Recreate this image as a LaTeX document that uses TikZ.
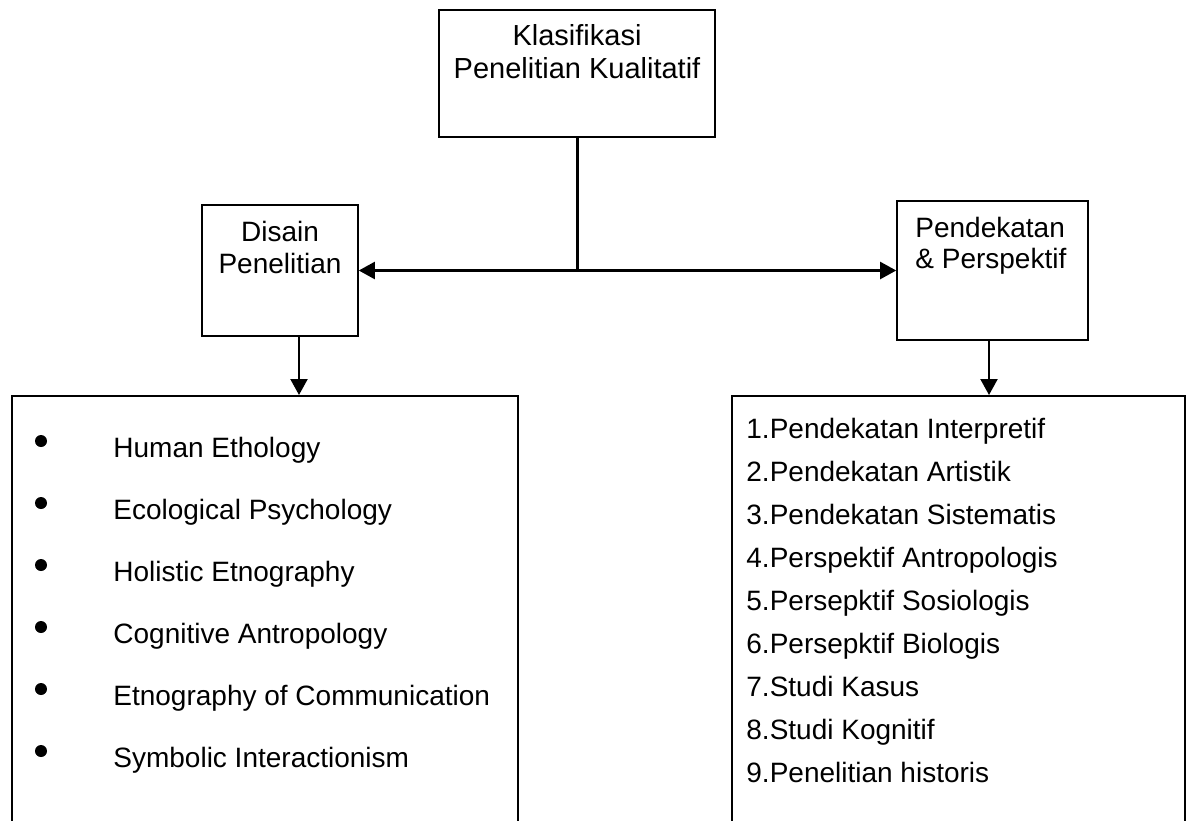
\documentclass[tikz,border=0pt]{standalone}
\usepackage{fontspec}
\setmainfont{Liberation Sans}
\usetikzlibrary{arrows.meta, positioning, calc}

\begin{document}
\begin{tikzpicture}[
    x=0.5pt, y=-0.5pt,
    every node/.style={font=\fontsize{14}{16}\selectfont, inner sep=0pt},
    bx/.style={draw, line width=0.8pt, fill=white},
    lbl/.style={align=center},
    item/.style={anchor=base west},
    dot/.style={circle, fill=black, minimum size=6pt, inner sep=0pt},
    ln/.style={line width=1.5pt},
    a/.style={-{Triangle[length=8pt, width=8.5pt]}, line width=1.1pt}
]
\path[use as bounding box, clip] (0,0) rectangle (1187,820);
\fill[white] (0,0) rectangle (1187,820);
% root
\node[bx, minimum width=138pt, minimum height=63.5pt] (root) at (577,73.5) {};
\node[lbl, font=\fontsize{14.5}{16.5}\selectfont] (rootT) at (577,52) {Klasifikasi\\Penelitian Kualitatif};
% second level
\node[bx, minimum width=78pt, minimum height=65.5pt] (dsn) at (280,270.5) {};
\node[lbl] (dsnT) at (280,247) {Disain\\Penelitian};
\node[bx, minimum width=95.5pt, minimum height=69.5pt] (pdk) at (992.5,270.5) {};
\node[lbl, align=left, anchor=west, font=\fontsize{14}{15.5}\selectfont] (pdkT) at (915,246) {Pendekatan\\\& Perspektif};
% connectors
\coordinate (jn) at (root.south |- dsn.east);
\draw[ln] (root.south) -- (jn);
\draw[a] (jn) -- (dsn.east);
\draw[a] (jn) -- (pdk.west);
% lists (cut off by the page)
\node[bx, anchor=north west, minimum width=253pt, minimum height=252.5pt] (lstD) at (11,395) {};
\node[bx, anchor=north west, minimum width=226.5pt, minimum height=252.5pt] (lstP) at (731,395) {};
\draw[a] ([xshift=9.5pt]dsn.south) -- ([xshift=9.5pt]dsn.south |- lstD.north);
\draw[a] ([xshift=-1.75pt]pdk.south) -- ([xshift=-1.75pt]pdk.south |- lstP.north);
% desain items
\node[dot] (d1) at (41,441) {};
\node[dot] (d2) at (41,503) {};
\node[dot] (d3) at (41,565) {};
\node[dot] (d4) at (41,627) {};
\node[dot] (d5) at (41,689) {};
\node[dot] (d6) at (41,751) {};
\node[item] (h1) at (113,457) {Human Ethology};
\node[item] (h2) at (113,519) {Ecological Psychology};
\node[item] (h3) at (113,581) {Holistic Etnography};
\node[item] (h4) at (113,643) {Cognitive Antropology};
\node[item] (h5) at (113,705) {Etnography of Communication};
\node[item] (h6) at (113,767) {Symbolic Interactionism};
% pendekatan items
\node[item] (p1) at (746,438) {1.Pendekatan Interpretif};
\node[item] (p2) at (746,481) {2.Pendekatan Artistik};
\node[item] (p3) at (746,524) {3.Pendekatan Sistematis};
\node[item] (p4) at (746,567) {4.Perspektif Antropologis};
\node[item] (p5) at (746,610) {5.Persepktif Sosiologis};
\node[item] (p6) at (746,653) {6.Persepktif Biologis};
\node[item] (p7) at (746,696) {7.Studi Kasus};
\node[item] (p8) at (746,739) {8.Studi Kognitif};
\node[item] (p9) at (746,782) {9.Penelitian historis};
\end{tikzpicture}
\end{document}
